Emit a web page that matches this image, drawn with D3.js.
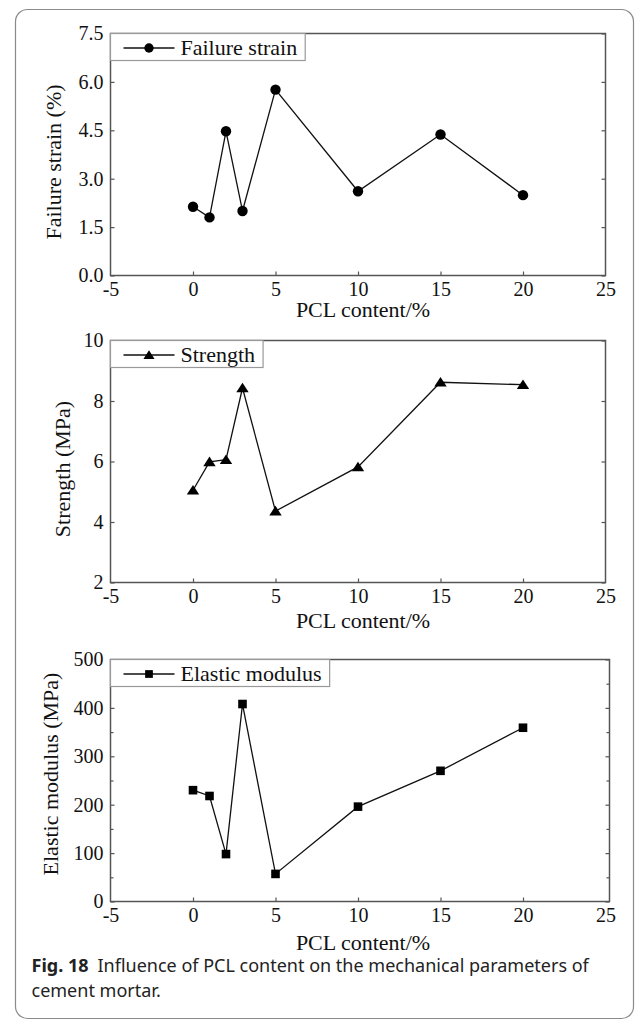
<!DOCTYPE html>
<html>
<head>
<meta charset="utf-8">
<script src="https://cdn.jsdelivr.net/npm/d3@7"></script>
<style>
  body { margin: 0; background: #fff; }
  svg { display: block; }
</style>
</head>
<body>
<div id="fig"></div>
<script>
// values
var pclContent = [0, 1, 2, 3, 5, 10, 15, 20];
var failureStrain = [2.13, 1.80, 4.47, 2.00, 5.76, 2.61, 4.37, 2.49];
var strength = [5.05, 5.99, 6.06, 8.43, 4.36, 5.82, 8.62, 8.54];
var elasticModulus = [230, 218, 98, 408, 57, 196, 270, 359];

var xTicks = [-5, 0, 5, 10, 15, 20, 25];
var strainTicks = [0, 1.5, 3, 4.5, 6, 7.5];
var strengthTicks = [2, 4, 6, 8, 10];
var modulusTicks = [0, 100, 200, 300, 400, 500];
var modulusMinor = [50, 150, 250, 350, 450];

var W = 636, H = 1021;
var serif = "'Liberation Serif', 'Times New Roman', serif";

// plain hyphen for negatives, as in the original figure
var intFmt = d => String(d);

var svg = d3.select("#fig")
  .append("svg")
  .attr("width", W)
  .attr("height", H);

// card border round the figure
svg.append("rect")
  .attr("x", 15.5)
  .attr("y", 9.5)
  .attr("width", 618)
  .attr("height", 1009)
  .attr("rx", 12)
  .attr("fill", "none")
  .attr("stroke", "#8a8a8a")
  .attr("stroke-width", 1.2);

var xScale = d3.scaleLinear().domain([-5, 25]).range([110.5, 605.5]);

var panels = [
  {values: failureStrain, domain: [0, 7.5], ticks: strainTicks, minor: [], fmt: d3.format(".1f"),
   top: 33.5, bottom: 275.5, right: 605.5, label: "Failure strain (%)", legend: "Failure strain",
   marker: "circle", ylabX: 61, ylabY: 162, xlabDy: 41},
  {values: strength, domain: [2, 10], ticks: strengthTicks, minor: [], fmt: intFmt,
   top: 340.5, bottom: 582.5, right: 605.5, label: "Strength (MPa)", legend: "Strength",
   marker: "triangle", ylabX: 70, ylabY: 469, xlabDy: 45},
  {values: elasticModulus, domain: [0, 500], ticks: modulusTicks, minor: modulusMinor, fmt: intFmt,
   top: 659.5, bottom: 901.5, right: 609.5, label: "Elastic modulus (MPa)", legend: "Elastic modulus",
   marker: "square", ylabX: 58, ylabY: 774, xlabDy: 48}
];

/**
 * Draw one marker symbol centred at (0,0) inside group g
 * @param g: d3.Selection
 * @param {string} kind: circle, triangle or square
 * @param {number} s: size factor
 */
function drawMarker(g, kind, s) {
  if (kind === "circle") {
    g.append("circle").attr("r", 5.2 * s).attr("fill", "#000");
  } else if (kind === "triangle") {
    var a = 6.2 * s;
    g.append("path")
      .attr("d", `M0,${-a * 0.85}L${a},${a * 0.7}L${-a},${a * 0.7}Z`)
      .attr("fill", "#000");
  } else {
    var h = 4.3 * s;
    g.append("rect").attr("x", -h).attr("y", -h).attr("width", 2 * h).attr("height", 2 * h)
      .attr("fill", "#000");
  }
}

/**
 * Draw one of the three stacked panels
 * @param {Object} p: panel settings
 */
function drawPanel(p) {
  var yScale = d3.scaleLinear().domain(p.domain).range([p.bottom, p.top]);
  var g = svg.append("g");

  // inner ticks
  g.append("g")
    .attr("transform", `translate(0,${p.bottom})`)
    .call(d3.axisBottom(xScale).tickValues(xTicks).tickSize(-4).tickPadding(6).tickFormat(intFmt))
    .call(ax => ax.select(".domain").remove())
    .call(ax => ax.selectAll("line").attr("stroke", "#555").attr("stroke-width", 1.2)
      .filter(d => d === -5 || d === 25).remove())
    .call(ax => ax.selectAll("text").attr("fill", "#111").style("font-family", serif).style("font-size", "20px"));

  g.append("g")
    .attr("transform", `translate(${xScale.range()[0]},0)`)
    .call(d3.axisLeft(yScale).tickValues(p.ticks).tickSize(-4).tickPadding(7).tickFormat(p.fmt))
    .call(ax => ax.select(".domain").remove())
    .call(ax => ax.selectAll("line").attr("stroke", "#555").attr("stroke-width", 1.2))
    .call(ax => ax.selectAll("text").attr("fill", "#111").style("font-family", serif).style("font-size", "20px"));

  g.append("g")
    .attr("transform", `translate(${p.right},0)`)
    .call(d3.axisRight(yScale).tickValues(p.ticks).tickSize(-4).tickFormat(""))
    .call(ax => ax.select(".domain").remove())
    .call(ax => ax.selectAll("line").attr("stroke", "#555").attr("stroke-width", 1.2));

  // minor ticks (modulus panel only)
  if (p.minor.length) {
    g.append("g")
      .attr("transform", `translate(${xScale.range()[0]},0)`)
      .call(d3.axisLeft(yScale).tickValues(p.minor).tickSize(-3).tickFormat(""))
      .call(ax => ax.select(".domain").remove())
      .call(ax => ax.selectAll("line").attr("stroke", "#555").attr("stroke-width", 1.2));
    g.append("g")
      .attr("transform", `translate(${p.right},0)`)
      .call(d3.axisRight(yScale).tickValues(p.minor).tickSize(-3).tickFormat(""))
      .call(ax => ax.select(".domain").remove())
      .call(ax => ax.selectAll("line").attr("stroke", "#555").attr("stroke-width", 1.2));
  }

  // frame
  g.append("rect")
    .attr("x", xScale.range()[0])
    .attr("y", p.top)
    .attr("width", p.right - xScale.range()[0])
    .attr("height", p.bottom - p.top)
    .attr("fill", "none")
    .attr("stroke", "#555")
    .attr("stroke-width", 1.5);

  // data line and markers
  var pts = pclContent.map((x, i) => [x, p.values[i]]);
  var line = d3.line().x(d => xScale(d[0])).y(d => yScale(d[1]));
  g.append("path")
    .datum(pts)
    .attr("d", line)
    .attr("fill", "none")
    .attr("stroke", "#111")
    .attr("stroke-width", 1.3);

  g.selectAll("g.mk")
    .data(pts)
    .enter().append("g")
    .attr("class", "mk")
    .attr("transform", d => `translate(${xScale(d[0])},${yScale(d[1])})`)
    .each(function() { drawMarker(d3.select(this), p.marker, 1); });

  // legend
  var lx = xScale.range()[0], ly = p.top;
  var leg = g.append("g");
  var box = leg.append("rect")
    .attr("x", lx)
    .attr("y", ly)
    .attr("height", 27)
    .attr("fill", "#fff")
    .attr("stroke", "#999")
    .attr("stroke-width", 1.2);
  leg.append("line")
    .attr("x1", lx + 13).attr("x2", lx + 64)
    .attr("y1", ly + 14.5).attr("y2", ly + 14.5)
    .attr("stroke", "#111").attr("stroke-width", 1.3);
  drawMarker(leg.append("g").attr("transform", `translate(${lx + 38.5},${ly + 14.5})`), p.marker, 0.9);
  var txt = leg.append("text")
    .attr("x", lx + 70)
    .attr("y", ly + 21)
    .style("font-family", serif)
    .style("font-size", "22px")
    .attr("fill", "#111")
    .text(p.legend);
  box.attr("width", 70 + txt.node().getComputedTextLength() + 8);

  // axis titles
  g.append("text")
    .attr("x", (xScale.range()[0] + 605.5) / 2 + 5)
    .attr("y", p.bottom + p.xlabDy)
    .attr("text-anchor", "middle")
    .style("font-family", serif)
    .style("font-size", "22px")
    .attr("fill", "#111")
    .text("PCL content/%");

  g.append("text")
    .attr("transform", `translate(${p.ylabX},${p.ylabY}) rotate(-90)`)
    .attr("text-anchor", "middle")
    .style("font-family", serif)
    .style("font-size", "22px")
    .attr("fill", "#111")
    .text(p.label);
}

panels.forEach(drawPanel);

// caption
var capFont = "'Noto Sans', 'Open Sans', sans-serif";
var cap = svg.append("text")
  .attr("x", 31.5)
  .attr("y", 972)
  .style("font-family", capFont)
  .style("font-size", "18px")
  .attr("fill", "#222");
cap.append("tspan").style("font-weight", "bold").text("Fig. 18");
cap.append("tspan").attr("dx", 9).text("Influence of PCL content on the mechanical parameters of");

svg.append("text")
  .attr("x", 31.5)
  .attr("y", 997)
  .style("font-family", capFont)
  .style("font-size", "18px")
  .attr("fill", "#222")
  .text("cement mortar.");
</script>
</body>
</html>
